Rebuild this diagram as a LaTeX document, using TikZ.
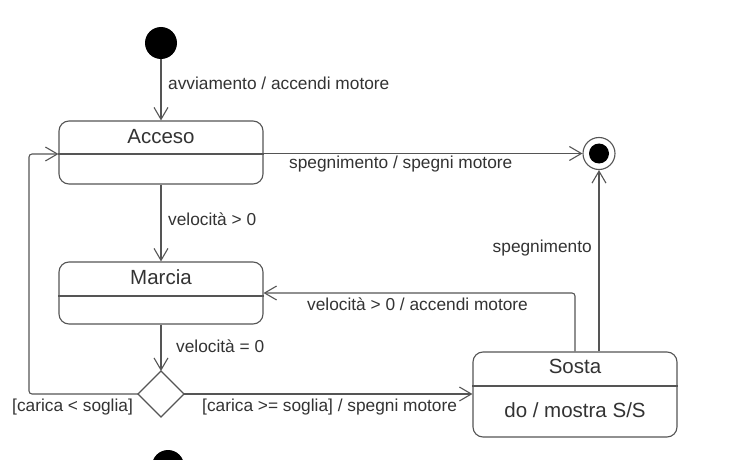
\documentclass[tikz,border=0pt]{standalone}
\usepackage{fontspec}
\setmainfont{Liberation Sans}
\usetikzlibrary{arrows.meta}
\definecolor{linec}{HTML}{555555}
\definecolor{textc}{HTML}{333333}
\tikzset{
  statebox/.style={draw=linec, line width=1.1pt, rounded corners=10pt, minimum width=204pt, inner sep=0pt, fill=white},
  divider/.style={draw=linec, line width=1.1pt},
  sname/.style={text=textc, font=\fontsize{20.5}{23}\selectfont, inner sep=0pt},
  lbl/.style={text=textc, font=\fontsize{17.3}{20}\selectfont, inner sep=0pt},
  conn/.style={draw=linec, line width=1.1pt, -{Straight Barb[length=12pt,width=14pt,line width=1.1pt]}, rounded corners=3pt},
  initnode/.style={circle, fill=black, minimum size=32pt, inner sep=0pt},
  finalnode/.style={circle, draw=linec, line width=1.1pt, fill=white, minimum size=32pt, inner sep=0pt},
  finalin/.style={circle, fill=black, minimum size=20pt, inner sep=0pt}
}
\begin{document}
\begin{tikzpicture}[x=1pt,y=-1pt]
\clip (0,0) rectangle (740,460);
\fill[white] (0,0) rectangle (740,460);

% initial states
\node[initnode] (init) at (161,43) {};
\node[initnode] (init2) at (168,466) {};

% states
\node[statebox, minimum height=63pt] (acceso) at (161,152.5) {};
\draw[divider] (acceso.west |- 0,154) -- (acceso.east |- 0,154);
\node[sname] (accesoT) at (161,137) {Acceso};

\node[statebox, minimum height=62pt] (marcia) at (161,293) {};
\draw[divider] (marcia.west |- 0,296) -- (marcia.east |- 0,296);
\node[sname] (marciaT) at (161,277) {Marcia};

\node[statebox, minimum height=85pt] (sosta) at (575,394.5) {};
\draw[divider] (sosta.west |- 0,386) -- (sosta.east |- 0,386);
\node[sname] (sostaT) at (575,366) {Sosta};
\node[sname] (sostaD) at (575,410) {do / mostra S/S};

% final state
\node[finalnode] (final) at (599,153.5) {};
\node[finalin] (finalI) at (final) {};

% decision
\coordinate (dec) at (161,394);
\coordinate (decN) at (161,371);
\coordinate (decS) at (161,417);
\coordinate (decW) at (138,394);
\coordinate (decE) at (184,394);
\draw[linec, line width=1.1pt, fill=white] (decN) -- (decE) -- (decS) -- (decW) -- cycle;

% bend points
\coordinate (loopA) at (29,394);
\coordinate (loopB) at (29,154);
\coordinate (sbend) at (575,293);

% connectors
\draw[conn] (init) -- (acceso.north);
\draw[conn] (acceso.east |- final) -- (final.west);
\draw[conn] (acceso.south) -- (marcia.north);
\draw[conn] (marcia.south) -- (decN);
\draw[conn] (decW) -- (loopA) -- (loopB) -- (acceso.west |- loopB);
\draw[conn] (decE) -- (sosta.west |- decE);
\draw[conn] (sosta.north) -- (sbend) -- (marcia.east |- sbend);
\draw[conn] (sosta.north -| final) -- (final.south);

% labels
\node[lbl, anchor=west] (l1) at (168,83) {avviamento / accendi motore};
\node[lbl, anchor=west] (l2) at (289,164) {spegnimento / spegni motore};
\node[lbl, anchor=west] (l3) at (168,219) {velocità > 0};
\node[lbl, anchor=west] (l4) at (176,346) {velocità = 0};
\node[lbl, anchor=west] (l5) at (307,304) {velocità > 0 / accendi motore};
\node[lbl, anchor=east] (l6) at (592,248) {spegnimento};
\node[lbl, anchor=west] (l7) at (12,407) {[carica < soglia]};
\node[lbl, anchor=west] (l8) at (202,407) {[carica >= soglia] / spegni motore};
\end{tikzpicture}
\end{document}
